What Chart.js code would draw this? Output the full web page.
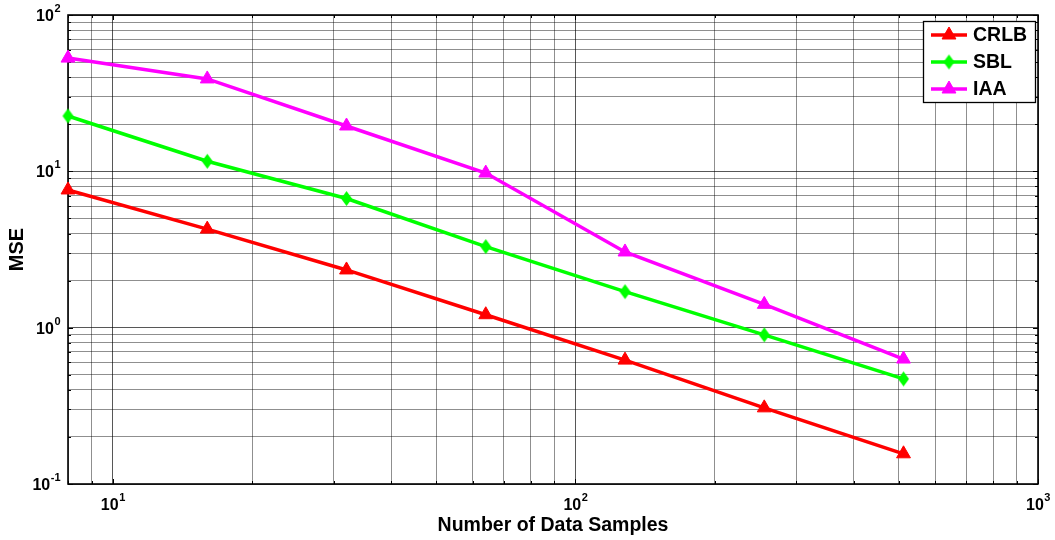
<!DOCTYPE html>
<html>
<head>
<meta charset="utf-8">
<title>MSE vs Number of Data Samples</title>
<script src="https://cdn.jsdelivr.net/npm/chart.js@4.4.1/dist/chart.umd.min.js"></script>
<style>
  html, body { margin: 0; padding: 0; background: #fff; }
  canvas { display: block; }
</style>
</head>
<body>
<canvas id="mseChart" width="1055" height="540"></canvas>
<script>
// ====== DATA ======
const samples = [8, 16, 32, 64, 128, 256, 512];
const crlb = [7.6, 4.27, 2.34, 1.21, 0.62, 0.307, 0.156];
const sbl  = [22.6, 11.6, 6.7, 3.3, 1.70, 0.90, 0.47];
const iaa  = [53, 39, 19.5, 9.75, 3.05, 1.41, 0.63];

// grid lines (log decades + minor steps) and decade labels
const xGrid = [8, 9, 10, 20, 30, 40, 50, 60, 70, 80, 90, 100, 200, 300, 400, 500, 600, 700, 800, 900, 1000];
const yGrid = [0.1, 0.2, 0.3, 0.4, 0.5, 0.6, 0.7, 0.8, 0.9, 1, 2, 3, 4, 5, 6, 7, 8, 9, 10, 20, 30, 40, 50, 60, 70, 80, 90, 100];
const xDecades = [10, 100, 1000];
const xDecadeExp = ['1', '2', '3'];
const yDecades = [0.1, 1, 10, 100];
const yDecadeExp = ['-1', '0', '1', '2'];

const FONT = "'Liberation Sans', Arial, Helvetica, sans-serif";

function isDecade(v) {
  const l = Math.log10(v);
  return Math.abs(l - Math.round(l)) < 1e-9;
}

function gridColor(c) {
  return isDecade(c.tick.value) ? 'rgba(0,0,0,0.66)' : 'rgba(0,0,0,0.44)';
}

function toPoints(ys) {
  return samples.map((x, i) => ({ x: x, y: ys[i] }));
}

// tall diamond marker (a bit narrower than high)
function diamond(color, w, h) {
  const c = document.createElement('canvas');
  c.width = w + 2;
  c.height = h + 2;
  const g = c.getContext('2d');
  g.fillStyle = color;
  g.beginPath();
  g.moveTo(c.width / 2, 1);
  g.lineTo(c.width - 1, c.height / 2);
  g.lineTo(c.width / 2, c.height - 1);
  g.lineTo(1, c.height / 2);
  g.closePath();
  g.fill();
  return c;
}

// "10" with a raised exponent
function drawPower(ctx, x, y, exp, align) {
  ctx.font = 'bold 16px ' + FONT;
  const baseW = ctx.measureText('10').width;
  ctx.font = 'bold 11px ' + FONT;
  const expW = ctx.measureText(exp).width;
  const left = align === 'right' ? x - baseW - expW : x - (baseW + expW) / 2;
  ctx.textAlign = 'left';
  ctx.textBaseline = 'alphabetic';
  ctx.fillStyle = '#000';
  ctx.font = 'bold 16px ' + FONT;
  ctx.fillText('10', left, y);
  ctx.font = 'bold 11px ' + FONT;
  ctx.fillText(exp, left + baseW + 0.5, y - 9);
}

const axesBox = {
  id: 'axesBox',
  beforeDatasetsDraw(chart) {
    const { ctx, chartArea: a, scales: { x, y } } = chart;
    ctx.save();
    // short inward tick marks on all four sides
    ctx.strokeStyle = '#000';
    ctx.lineWidth = 1;
    ctx.beginPath();
    xGrid.forEach(v => {
      const px = Math.round(x.getPixelForValue(v)) + 0.5;
      const len = isDecade(v) ? 5 : 3;
      ctx.moveTo(px, a.bottom); ctx.lineTo(px, a.bottom - len);
      ctx.moveTo(px, a.top); ctx.lineTo(px, a.top + len);
    });
    yGrid.forEach(v => {
      const py = Math.round(y.getPixelForValue(v)) + 0.5;
      const len = isDecade(v) ? 5 : 3;
      ctx.moveTo(a.left, py); ctx.lineTo(a.left + len, py);
      ctx.moveTo(a.right, py); ctx.lineTo(a.right - len, py);
    });
    ctx.stroke();
    ctx.lineWidth = 1.6;
    ctx.strokeRect(a.left, a.top, a.right - a.left, a.bottom - a.top);

    // decade labels
    xDecades.forEach((v, i) => drawPower(ctx, x.getPixelForValue(v), a.bottom + 26, xDecadeExp[i], 'center'));
    yDecades.forEach((v, i) => drawPower(ctx, a.left - 8, y.getPixelForValue(v) + 6, yDecadeExp[i], 'right'));
    ctx.restore();
  },
  afterDraw(chart) {
    // boxed legend in the upper right corner
    const { ctx, chartArea: a } = chart;
    const w = 112, h = 81;
    const left = a.right - 3 - w, top = a.top + 6;
    ctx.save();
    ctx.fillStyle = '#fff';
    ctx.fillRect(left, top, w, h);
    ctx.strokeStyle = '#000';
    ctx.lineWidth = 1.3;
    ctx.strokeRect(left + 0.5, top + 0.5, w, h);
    chart.data.datasets.forEach((ds, i) => {
      const cy = top + 14 + i * 27;
      ctx.strokeStyle = ds.borderColor;
      ctx.lineWidth = ds.borderWidth;
      ctx.beginPath();
      ctx.moveTo(left + 8, cy);
      ctx.lineTo(left + 44, cy);
      ctx.stroke();
      ctx.fillStyle = ds.pointBackgroundColor;
      ctx.strokeStyle = ds.pointBorderColor;
      ctx.lineWidth = 1;
      Chart.helpers.drawPoint(ctx, {
        pointStyle: ds.pointStyle, radius: ds.pointRadius, rotation: 0, borderWidth: 1
      }, left + 26, cy);
      ctx.fillStyle = '#000';
      ctx.font = 'bold 19.5px ' + FONT;
      ctx.textAlign = 'left';
      ctx.textBaseline = 'middle';
      ctx.fillText(ds.label, left + 50, cy + 1);
    });
    ctx.restore();
  }
};

function series(label, ys, color, style, r) {
  return {
    label: label,
    data: toPoints(ys),
    borderColor: color,
    backgroundColor: color,
    pointBackgroundColor: color,
    pointBorderColor: color,
    pointStyle: style,
    pointRadius: r,
    pointBorderWidth: 1,
    borderWidth: 3.5,
    tension: 0,
    clip: false
  };
}

new Chart(document.getElementById('mseChart'), {
  type: 'line',
  data: {
    datasets: [
      series('CRLB', crlb, '#FF0000', 'triangle', 8),
      series('SBL', sbl, '#00FF00', diamond('#00FF00', 11, 15), 7),
      series('IAA', iaa, '#FF00FF', 'triangle', 8)
    ]
  },
  options: {
    responsive: false,
    animation: false,
    layout: { padding: { top: 15, right: 17, left: 0, bottom: 0 } },
    plugins: { legend: { display: false }, tooltip: { enabled: false } },
    scales: {
      x: {
        type: 'logarithmic',
        min: 8,
        max: 1000,
        afterBuildTicks: s => { s.ticks = xGrid.map(v => ({ value: v })); },
        afterFit: s => { s.height = 56; },
        grid: { drawTicks: false, color: gridColor, lineWidth: 1 },
        border: { display: false },
        ticks: { display: false },
        title: {
          display: true,
          text: 'Number of Data Samples',
          color: '#000',
          font: { family: FONT, size: 19.5, weight: 'bold' },
          padding: { top: 0, bottom: 3 }
        }
      },
      y: {
        type: 'logarithmic',
        min: 0.1,
        max: 100,
        afterBuildTicks: s => { s.ticks = yGrid.map(v => ({ value: v })); },
        afterFit: s => { s.width = 68; },
        grid: { drawTicks: false, color: gridColor, lineWidth: 1 },
        border: { display: false },
        ticks: { display: false },
        title: {
          display: true,
          text: 'MSE',
          color: '#000',
          font: { family: FONT, size: 20, weight: 'bold' },
          padding: { top: 5, bottom: 0 }
        }
      }
    }
  },
  plugins: [axesBox]
});
</script>
</body>
</html>
